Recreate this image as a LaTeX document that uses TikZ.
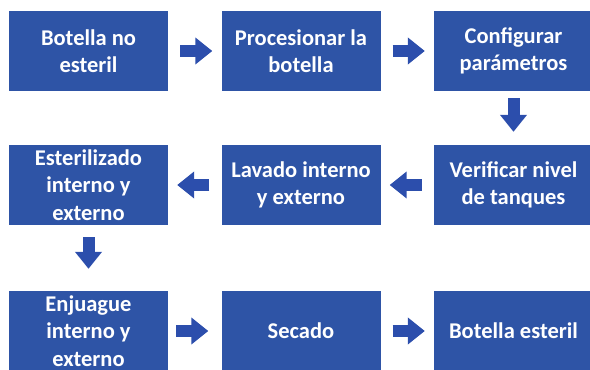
\documentclass[tikz,border=0pt]{standalone}
\usepackage{fontspec}
\setmainfont{Carlito}
\usetikzlibrary{arrows.meta}
\definecolor{azulcaja}{RGB}{46,84,166}
\definecolor{azulflecha}{RGB}{44,78,172}
\tikzset{
  caja/.style={fill=azulcaja, text=white, minimum width=159pt, minimum height=80pt,
    inner sep=0pt, align=center, font=\bfseries\fontsize{22.5}{27.5}\selectfont},
  flecha/.style={azulflecha, line width=12pt, -{Triangle[length=17pt,width=26pt]}}
}
\begin{document}
\begin{tikzpicture}[x=1pt,y=1pt]
\useasboundingbox (0,0) rectangle (590,370);

% fila 1
\node[caja] (botella) at (88.5,319) {Botella no\\esteril};
\node[caja] (procesar) at (301,319) {Procesionar la\\botella};
\node[caja] (configurar) at (513.5,319) {Configurar\\par\'ametros};
% fila 2
\node[caja] (verificar) at (513.5,185) {Verificar nivel\\de tanques};
\node[caja] (lavado) at (301,185) {Lavado interno\\y externo};
\node[caja] (esterilizado) at (88.5,185) {Esterilizado\\interno y\\externo};
% fila 3
\node[caja] (enjuague) at (88.5,39) {Enjuague\\interno y\\externo};
\node[caja] (secado) at (301,39) {Secado};
\node[caja] (final) at (513.5,39) {Botella esteril};

\draw [flecha, shorten <=12pt, shorten >=9pt] (botella) -- (procesar);
\draw [flecha, shorten <=12pt, shorten >=9pt] (procesar) -- (configurar);
\draw [flecha, shorten <=7pt, shorten >=13pt] (configurar) -- (verificar);
\draw [flecha, shorten <=12pt, shorten >=9pt] (verificar) -- (lavado);
\draw [flecha, shorten <=12pt, shorten >=9pt] (lavado) -- (esterilizado);
\draw [flecha, shorten <=12pt, shorten >=22pt] (esterilizado) -- (enjuague);
\draw [flecha, shorten <=8pt, shorten >=13pt] (enjuague) -- (secado);
\draw [flecha, shorten <=12pt, shorten >=9pt] (secado) -- (final);

\end{tikzpicture}
\end{document}
